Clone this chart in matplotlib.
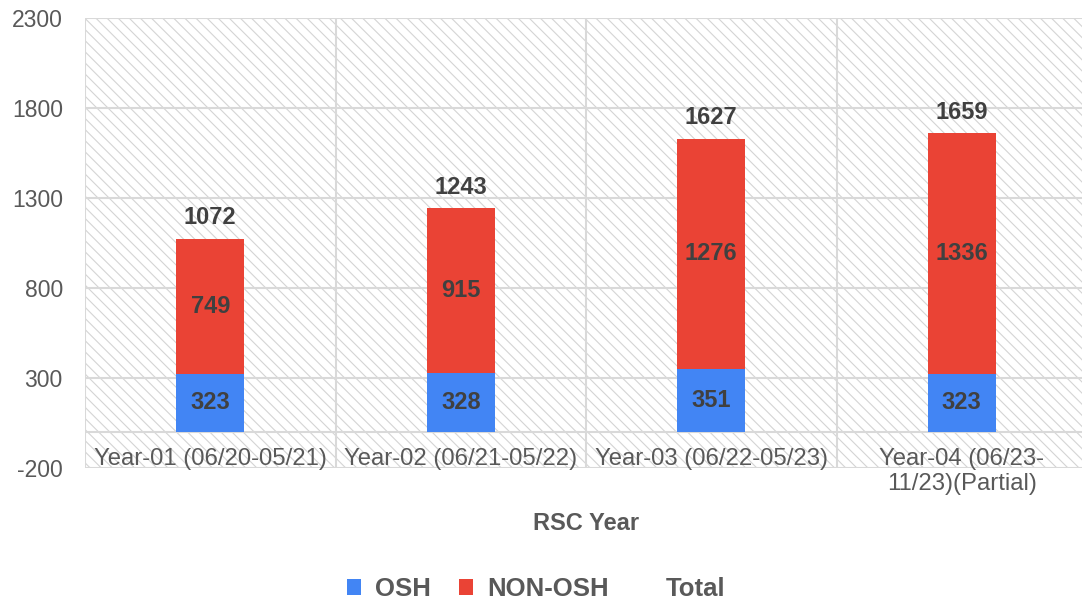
import matplotlib.pyplot as plt
from matplotlib.patches import Patch, Rectangle

plt.rcParams['font.family'] = ['Liberation Sans', 'DejaVu Sans']
plt.rcParams['hatch.linewidth'] = 0.8

categories = ['Year-01 (06/20-05/21)', 'Year-02 (06/21-05/22)',
              'Year-03 (06/22-05/23)', 'Year-04 (06/23-\n11/23)(Partial)']
osh = [323, 328, 351, 323]
non_osh = [749, 915, 1276, 1336]
total = [1072, 1243, 1627, 1659]
yticks = [-200, 300, 800, 1300, 1800, 2300]

blue = '#4285F4'
red = '#EA4335'
grid_c = '#d9d9d9'
txt = '#595959'
lbl = '#404040'

fig = plt.figure(figsize=(10.82, 6.05), dpi=100)
ax = fig.add_axes([85 / 1082, 137 / 605, 1002 / 1082, 450 / 605])

# hatched plot background
ax.add_patch(Rectangle((0, 0), 1, 1, transform=ax.transAxes, facecolor='white',
                       edgecolor='#d4d4d4', hatch='\\\\\\', linewidth=0, zorder=0))

x = range(len(categories))
w = 0.27
ax.bar(x, osh, w, color=blue, zorder=3, label='OSH')
ax.bar(x, non_osh, w, bottom=osh, color=red, zorder=3, label='NON-OSH')

for i in x:
    ax.text(i, osh[i] / 2, str(osh[i]), ha='center', va='center',
            fontsize=17, fontweight='bold', color=lbl, zorder=4)
    ax.text(i, osh[i] + non_osh[i] / 2, str(non_osh[i]), ha='center', va='center',
            fontsize=17, fontweight='bold', color=lbl, zorder=4)
    ax.annotate(str(total[i]), (i, total[i]), xytext=(0, 7), textcoords='offset points',
                ha='center', va='bottom', fontsize=17, fontweight='bold', color=lbl, zorder=4)

ax.set_xlim(-0.5, 3.5)
ax.set_ylim(-200, 2300)
ax.set_yticks(yticks)
ax.set_yticklabels([str(v) for v in yticks])
ax.set_xticks(list(x))
ax.set_xticklabels(categories)

for yv in yticks:
    ax.axhline(yv, color=grid_c, lw=1.5, zorder=1)
ax.axhline(0, color=grid_c, lw=1.5, zorder=1)
for xv in [-0.5, 0.5, 1.5, 2.5]:
    ax.axvline(xv, color=grid_c, lw=1.5, zorder=1)

for s in ax.spines.values():
    s.set_visible(False)

ax.tick_params(axis='y', length=0, pad=16, labelsize=16.5, labelcolor=txt)
ax.tick_params(axis='x', length=0, pad=-14.5, labelsize=17.2, labelcolor=txt)

fig.text(586 / 1082, 1 - 524 / 605, 'RSC Year', ha='center', va='center',
         fontsize=17, fontweight='bold', color=txt)

handles = [Patch(facecolor=blue, edgecolor='none'),
           Patch(facecolor=red, edgecolor='none'),
           Patch(facecolor='none', edgecolor='none')]
leg = fig.legend(handles, ['OSH', 'NON-OSH', 'Total'], loc='center',
                 bbox_to_anchor=(536 / 1082, 1 - 589 / 605), ncol=3, frameon=False,
                 handlelength=0.55, handleheight=0.55, handletextpad=0.55,
                 columnspacing=1.1, prop={'size': 18.5, 'weight': 'bold'})
for t in leg.get_texts():
    t.set_color(txt)

fig.savefig('out.png', dpi=100)
